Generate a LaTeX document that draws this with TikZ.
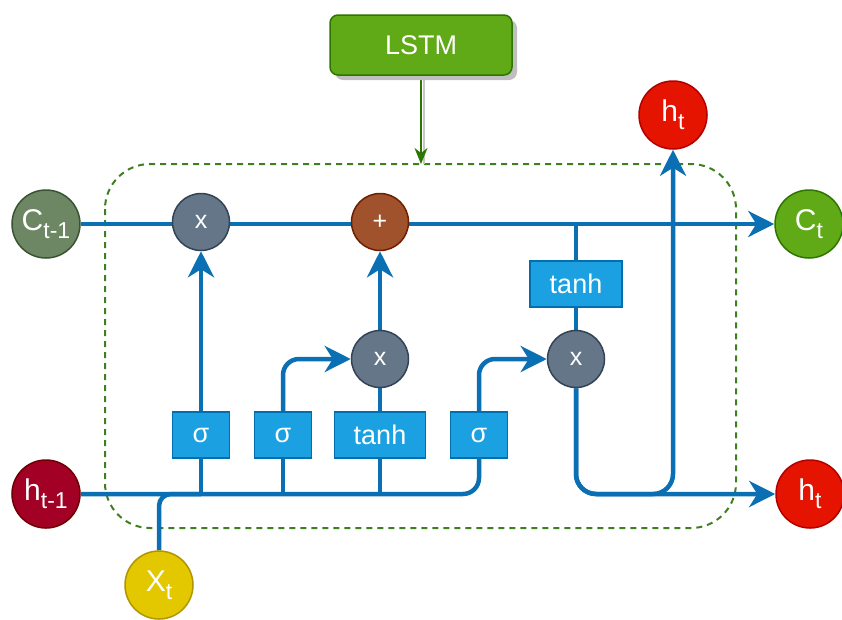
\documentclass[tikz,border=0pt]{standalone}
\usepackage{fontspec}
\setmainfont{Liberation Sans}
\setsansfont{Liberation Sans}
\usetikzlibrary{arrows.meta,shadows,backgrounds}
\definecolor{lineblue}{HTML}{0B6FB4}
\definecolor{boxfill}{HTML}{1BA1E2}
\definecolor{boxborder}{HTML}{006EAF}
\definecolor{gxf}{HTML}{647687}
\definecolor{gxb}{HTML}{314354}
\definecolor{plusf}{HTML}{A0522D}
\definecolor{plusb}{HTML}{6D1F00}
\definecolor{cprevf}{HTML}{6D8764}
\definecolor{cprevb}{HTML}{3A5431}
\definecolor{ctf}{HTML}{60A917}
\definecolor{ctb}{HTML}{2D7600}
\definecolor{hprevf}{HTML}{A20025}
\definecolor{hprevb}{HTML}{6F0000}
\definecolor{htf}{HTML}{E51400}
\definecolor{htb}{HTML}{B20000}
\definecolor{xtf}{HTML}{E3C800}
\definecolor{xtb}{HTML}{B09500}
\definecolor{dashgreen}{HTML}{3F7F22}
\newcommand{\lowsub}[1]{\raisebox{-8pt}{\fontsize{23}{23}\selectfont #1}}
\begin{document}
\begin{tikzpicture}[x=1pt,y=-1pt,
  flow/.style={draw=lineblue, line width=4.5pt},
  arr/.style={-{Stealth[length=26pt,width=26pt,inset=8pt]}},
  gate/.style={circle, minimum size=57pt, inner sep=0pt, line width=1.5pt, text=white,
    font=\sffamily\fontsize{25}{25}\selectfont},
  io/.style={circle, minimum size=68pt, inner sep=0pt, line width=1.5pt, text=white,
    font=\sffamily\fontsize{30}{30}\selectfont},
  fbox/.style={rectangle, draw=boxborder, fill=boxfill, line width=1.5pt, minimum height=46pt,
    inner sep=0pt, text=white, font=\sffamily\fontsize{27}{27}\selectfont},
  lstmbox/.style={rectangle, rounded corners=8pt, draw=ctb, fill=ctf, line width=1.5pt,
    minimum width=182pt, minimum height=60pt, text=white, font=\sffamily\fontsize{27}{27}\selectfont,
    drop shadow={shadow xshift=5pt, shadow yshift=-5pt, fill=black!25, opacity=1}},
  dashbox/.style={draw=dashgreen, line width=2pt, dash pattern=on 6pt off 5pt, rounded corners=45pt}
]
\useasboundingbox (0,0) rectangle (842,619);

% nodes
\node[lstmbox] (lstm) at (421,45) {LSTM};
\coordinate (lstmend) at (421,164);

\node[io, fill=cprevf, draw=cprevb] (cprev) at (46,224) {C\lowsub{t-1}};
\node[gate, fill=gxf, draw=gxb] (m1) at (201,222) {x};
\node[gate, fill=plusf, draw=plusb] (add) at (380,222) {+};
\node[io, fill=ctf, draw=ctb] (ct) at (809,224) {C\lowsub{t}};

\node[io, fill=htf, draw=htb] (htop) at (673,115) {h\lowsub{t}};

\node[fbox, minimum width=92pt] (tanh2) at (576,284) {tanh};
\node[gate, fill=gxf, draw=gxb] (m3) at (576,359) {x};
\node[gate, fill=gxf, draw=gxb] (m2) at (380,359) {x};

\node[fbox, minimum width=57pt] (s1) at (201,435) {σ};
\node[fbox, minimum width=57pt] (s2) at (283,435) {σ};
\node[fbox, minimum width=91pt] (tanh1) at (380,435) {tanh};
\node[fbox, minimum width=57pt] (s4) at (479,435) {σ};

\node[io, fill=hprevf, draw=hprevb] (hprev) at (46,494) {h\lowsub{t-1}};
\node[io, fill=htf, draw=htb] (hout) at (810,494) {h\lowsub{t}};
\node[io, fill=xtf, draw=xtb] (xt) at (159,585) {X\lowsub{t}};

\begin{scope}[on background layer]
  \draw[dashbox] (105,164) rectangle (736,528);
  % LSTM arrow with shadow
  \draw[black!22, line width=1.5pt] ([xshift=3pt]lstm.south) -- ([xshift=3pt]lstmend);
  \draw[ctb, line width=1.8pt, -{Stealth[length=16pt,width=13pt,inset=5pt]}] (lstm.south) -- (lstmend);

  % cell state line
  \draw[flow] (cprev.east) -- (m1.west |- cprev.east);
  \draw[flow] (m1.east |- cprev.east) -- (add.west |- cprev.east);
  \draw[flow, arr] (add.east |- cprev.east) -- (ct.west);

  % bottom bus
  \draw[flow, rounded corners=16pt] (hprev.east) -- (s4.south |- hprev) -- (s4.south);
  \draw[flow, rounded corners=12pt] (xt.north) |- (s1.south |- hprev);
  \draw[flow] (s1.south) -- (s1.south |- hprev);
  \draw[flow] (s2.south) -- (s2.south |- hprev);
  \draw[flow] (tanh1.south) -- (tanh1.south |- hprev);

  % gates
  \draw[flow, arr] (s1) -- (m1);
  \draw[flow, arr, rounded corners=16pt] (s2.north) |- (m2.west);
  \draw[flow] (tanh1) -- (m2);
  \draw[flow, arr] (m2) -- (add);
  \draw[flow, arr, rounded corners=16pt] (s4.north) |- (m3.west);

  % output part
  \draw[flow] (tanh2.north) -- (tanh2.north |- cprev.east);
  \draw[flow] (tanh2) -- (m3);
  \draw[flow, arr, rounded corners=20pt] (m3.south) |- (hout.west);
  \draw[flow, arr, rounded corners=20pt] (m3.south) |- (htop.south |- hout) -- (htop.south);
\end{scope}
\end{tikzpicture}
\end{document}
